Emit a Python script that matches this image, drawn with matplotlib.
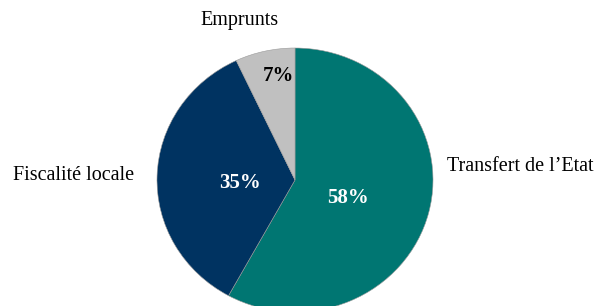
import matplotlib
matplotlib.use("Agg")
import matplotlib.pyplot as plt

# parts du financement
labels = ["Transfert de l\u2019Etat", "Fiscalité locale", "Emprunts"]
shares = [58, 35, 7]
colors = ["#007672", "#003361", "#C0C0C0"]
pct_colors = ["white", "white", "black"]

plt.rcParams["font.family"] = ["Liberation Serif", "DejaVu Serif"]

W, H = 596, 306
fig = plt.figure(figsize=(W / 100, H / 100), dpi=100)

# camembert un peu aplati (comme dans Excel) : axes en pixels
left, right, top, bottom = 157, 433, 48, 312
ax = fig.add_axes([left / W, (H - bottom) / H, (right - left) / W, (bottom - top) / H])
wedges, texts, autotexts = ax.pie(
    shares, colors=colors, startangle=90, counterclock=False,
    autopct="%d%%", pctdistance=0.4,
    wedgeprops=dict(linewidth=0.4, edgecolor="#9a9a9a"))
ax.set_aspect("auto")
ax.set_xlim(-1, 1)
ax.set_ylim(-1, 1)
ax.axis("off")

pct_pos = [(0.385, -0.14), (-0.40, -0.02), (-0.12, 0.79)]
for t, c, p in zip(autotexts, pct_colors, pct_pos):
    t.set_color(c)
    t.set_fontsize(15)
    t.set_fontweight("bold")
    t.set_position(p)

label_pos = [(447, 167, "left"), (13, 175, "left"), (240, 20, "center")]
for lab, (x, y, ha) in zip(labels, label_pos):
    fig.text(x / W, 1 - y / H, lab, fontsize=14.5, ha=ha, va="center", color="black")

plt.savefig("out.png", dpi=100)
